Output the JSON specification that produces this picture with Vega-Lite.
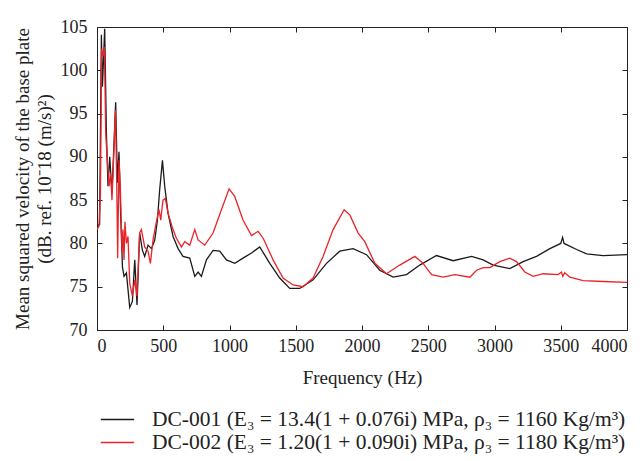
{
  "$schema": "https://vega.github.io/schema/vega-lite/v6.json",
  "width": 530,
  "height": 303,
  "autosize": {"type": "none"},
  "padding": {"left": 97, "top": 27, "right": 16, "bottom": 131},
  "background": "white",
  "config": {
    "font": "Liberation Serif",
    "view": {"stroke": "#222", "strokeWidth": 1},
    "axis": {"domainColor": "#222", "tickColor": "#222", "labelColor": "#222", "titleColor": "#222", "grid": false, "labelFont": "Liberation Serif", "titleFont": "Liberation Serif", "titleFontWeight": "normal"},
    "legend": {"labelFont": "Liberation Serif"}
  },
  "data": {"values": [
    {"s":"DC-001","f":0,"v":82.0},{"s":"DC-001","f":20,"v":82.2},{"s":"DC-001","f":33,"v":104.1},{"s":"DC-001","f":41,"v":98.1},{"s":"DC-001","f":58,"v":104.8},{"s":"DC-001","f":71,"v":92.8},{"s":"DC-001","f":83,"v":86.6},{"s":"DC-001","f":96,"v":90.0},{"s":"DC-001","f":113,"v":85.8},{"s":"DC-001","f":141,"v":96.3},{"s":"DC-001","f":154,"v":87.0},{"s":"DC-001","f":166,"v":90.6},{"s":"DC-001","f":179,"v":83.1},{"s":"DC-001","f":192,"v":77.3},{"s":"DC-001","f":204,"v":76.2},{"s":"DC-001","f":222,"v":76.6},{"s":"DC-001","f":247,"v":72.6},{"s":"DC-001","f":267,"v":73.3},{"s":"DC-001","f":285,"v":78.1},{"s":"DC-001","f":302,"v":72.9},{"s":"DC-001","f":322,"v":81.2},{"s":"DC-001","f":343,"v":79.2},{"s":"DC-001","f":360,"v":78.5},{"s":"DC-001","f":385,"v":79.8},{"s":"DC-001","f":411,"v":79.4},{"s":"DC-001","f":436,"v":80.4},{"s":"DC-001","f":456,"v":82.7},{"s":"DC-001","f":473,"v":86.2},{"s":"DC-001","f":494,"v":89.6},{"s":"DC-001","f":511,"v":86.6},{"s":"DC-001","f":536,"v":83.5},{"s":"DC-001","f":574,"v":80.8},{"s":"DC-001","f":612,"v":79.4},{"s":"DC-001","f":649,"v":78.5},{"s":"DC-001","f":700,"v":78.3},{"s":"DC-001","f":738,"v":76.2},{"s":"DC-001","f":763,"v":76.7},{"s":"DC-001","f":788,"v":76.2},{"s":"DC-001","f":826,"v":78.1},{"s":"DC-001","f":876,"v":79.2},{"s":"DC-001","f":926,"v":79.1},{"s":"DC-001","f":977,"v":78.1},{"s":"DC-001","f":1040,"v":77.7},{"s":"DC-001","f":1102,"v":78.3},{"s":"DC-001","f":1166,"v":78.9},{"s":"DC-001","f":1228,"v":79.6},{"s":"DC-001","f":1304,"v":77.7},{"s":"DC-001","f":1379,"v":76.0},{"s":"DC-001","f":1455,"v":74.8},{"s":"DC-001","f":1530,"v":74.8},{"s":"DC-001","f":1631,"v":75.8},{"s":"DC-001","f":1732,"v":77.7},{"s":"DC-001","f":1832,"v":79.1},{"s":"DC-001","f":1933,"v":79.4},{"s":"DC-001","f":2034,"v":78.7},{"s":"DC-001","f":2134,"v":76.9},{"s":"DC-001","f":2235,"v":76.1},{"s":"DC-001","f":2336,"v":76.4},{"s":"DC-001","f":2436,"v":77.5},{"s":"DC-001","f":2562,"v":78.6},{"s":"DC-001","f":2688,"v":78.0},{"s":"DC-001","f":2827,"v":78.5},{"s":"DC-001","f":2914,"v":78.1},{"s":"DC-001","f":2990,"v":77.5},{"s":"DC-001","f":3116,"v":77.1},{"s":"DC-001","f":3216,"v":77.9},{"s":"DC-001","f":3317,"v":78.5},{"s":"DC-001","f":3418,"v":79.4},{"s":"DC-001","f":3500,"v":80.0},{"s":"DC-001","f":3514,"v":80.7},{"s":"DC-001","f":3525,"v":80.0},{"s":"DC-001","f":3620,"v":79.3},{"s":"DC-001","f":3695,"v":78.8},{"s":"DC-001","f":3820,"v":78.6},{"s":"DC-001","f":4000,"v":78.7},
    {"s":"DC-002","f":0,"v":81.6},{"s":"DC-002","f":15,"v":82.0},{"s":"DC-002","f":26,"v":85.8},{"s":"DC-002","f":35,"v":102.5},{"s":"DC-002","f":45,"v":101.6},{"s":"DC-002","f":56,"v":102.7},{"s":"DC-002","f":66,"v":92.7},{"s":"DC-002","f":76,"v":90.0},{"s":"DC-002","f":91,"v":86.6},{"s":"DC-002","f":103,"v":88.1},{"s":"DC-002","f":113,"v":85.0},{"s":"DC-002","f":128,"v":90.8},{"s":"DC-002","f":139,"v":95.4},{"s":"DC-002","f":149,"v":87.0},{"s":"DC-002","f":156,"v":78.3},{"s":"DC-002","f":166,"v":89.6},{"s":"DC-002","f":176,"v":86.6},{"s":"DC-002","f":189,"v":78.9},{"s":"DC-002","f":196,"v":81.6},{"s":"DC-002","f":204,"v":78.1},{"s":"DC-002","f":211,"v":82.5},{"s":"DC-002","f":222,"v":80.0},{"s":"DC-002","f":234,"v":80.8},{"s":"DC-002","f":247,"v":75.4},{"s":"DC-002","f":267,"v":73.9},{"s":"DC-002","f":285,"v":75.8},{"s":"DC-002","f":302,"v":73.9},{"s":"DC-002","f":322,"v":81.2},{"s":"DC-002","f":335,"v":81.6},{"s":"DC-002","f":360,"v":79.6},{"s":"DC-002","f":385,"v":79.1},{"s":"DC-002","f":403,"v":77.7},{"s":"DC-002","f":423,"v":80.4},{"s":"DC-002","f":448,"v":82.5},{"s":"DC-002","f":468,"v":83.9},{"s":"DC-002","f":481,"v":82.7},{"s":"DC-002","f":498,"v":85.0},{"s":"DC-002","f":516,"v":85.2},{"s":"DC-002","f":536,"v":83.5},{"s":"DC-002","f":574,"v":81.6},{"s":"DC-002","f":599,"v":80.6},{"s":"DC-002","f":637,"v":79.6},{"s":"DC-002","f":662,"v":80.2},{"s":"DC-002","f":700,"v":79.8},{"s":"DC-002","f":738,"v":81.6},{"s":"DC-002","f":763,"v":80.4},{"s":"DC-002","f":813,"v":79.8},{"s":"DC-002","f":876,"v":81.2},{"s":"DC-002","f":939,"v":83.9},{"s":"DC-002","f":997,"v":86.3},{"s":"DC-002","f":1040,"v":85.4},{"s":"DC-002","f":1102,"v":82.7},{"s":"DC-002","f":1166,"v":80.9},{"s":"DC-002","f":1216,"v":81.4},{"s":"DC-002","f":1254,"v":80.6},{"s":"DC-002","f":1329,"v":78.1},{"s":"DC-002","f":1404,"v":76.0},{"s":"DC-002","f":1480,"v":75.2},{"s":"DC-002","f":1555,"v":75.0},{"s":"DC-002","f":1631,"v":76.0},{"s":"DC-002","f":1706,"v":78.5},{"s":"DC-002","f":1782,"v":81.6},{"s":"DC-002","f":1865,"v":83.9},{"s":"DC-002","f":1908,"v":83.3},{"s":"DC-002","f":1971,"v":81.2},{"s":"DC-002","f":2021,"v":80.2},{"s":"DC-002","f":2097,"v":77.7},{"s":"DC-002","f":2185,"v":76.5},{"s":"DC-002","f":2285,"v":77.5},{"s":"DC-002","f":2399,"v":78.5},{"s":"DC-002","f":2461,"v":77.7},{"s":"DC-002","f":2525,"v":76.4},{"s":"DC-002","f":2612,"v":76.1},{"s":"DC-002","f":2701,"v":76.4},{"s":"DC-002","f":2814,"v":76.1},{"s":"DC-002","f":2865,"v":76.9},{"s":"DC-002","f":2914,"v":77.2},{"s":"DC-002","f":2965,"v":77.2},{"s":"DC-002","f":3040,"v":77.9},{"s":"DC-002","f":3116,"v":78.3},{"s":"DC-002","f":3166,"v":77.9},{"s":"DC-002","f":3229,"v":76.7},{"s":"DC-002","f":3292,"v":76.2},{"s":"DC-002","f":3367,"v":76.5},{"s":"DC-002","f":3480,"v":76.4},{"s":"DC-002","f":3506,"v":76.7},{"s":"DC-002","f":3515,"v":76.2},{"s":"DC-002","f":3530,"v":76.6},{"s":"DC-002","f":3569,"v":76.1},{"s":"DC-002","f":3669,"v":75.7},{"s":"DC-002","f":3820,"v":75.6},{"s":"DC-002","f":4000,"v":75.5}
  ]},
  "layer": [
    {
      "mark": {"type": "line", "strokeWidth": 1.3, "clip": true},
      "encoding": {
        "x": {"field": "f", "type": "quantitative", "scale": {"domain": [0, 4000], "nice": false, "zero": false},
              "axis": {"orient": "bottom", "format": "d", "values": [0,500,1000,1500,2000,2500,3000,3500,4000], "tickSize": -5, "labelPadding": 12, "labelFontSize": 18, "title": "Frequency (Hz)", "titleFontSize": 19, "titlePadding": 13}},
        "y": {"field": "v", "type": "quantitative", "scale": {"domain": [70, 105], "nice": false, "zero": false},
              "axis": {"orient": "left", "values": [70,75,80,85,90,95,100,105], "tickSize": -5, "labelPadding": 15, "labelFontSize": 18, "title": ["Mean squared velocity of the base plate", "(dB. ref. 10⁻18 (m/s)²)"], "titleFontSize": 19, "titlePadding": 6, "titleLineHeight": 22}},
        "color": {"field": "s", "type": "nominal",
                  "scale": {"domain": ["DC-001", "DC-002"], "range": ["#1a1a1a", "#ec2228"]},
                  "legend": {"orient": "none", "legendX": 8, "legendY": 380, "title": null, "symbolType": "M-1.45,0H1.45", "symbolSize": 529, "symbolStrokeWidth": 1.3, "symbolFillColor": "transparent", "labelFontSize": 21.5, "labelColor": "#222", "labelOffset": 22, "rowPadding": 0,
                             "labelExpr": "datum.value == 'DC-001' ? 'DC-001 (E₃  =  13.4(1 + 0.076i) MPa, ρ₃  =  1160 Kg/m³)' : 'DC-002 (E₃  =  1.20(1 + 0.090i) MPa, ρ₃  =  1180 Kg/m³)'", "labelLimit": 600}}
      }
    },
    {
      "mark": {"type": "point", "opacity": 0},
      "encoding": {
        "x": {"field": "f", "type": "quantitative", "scale": {"domain": [0, 4000], "nice": false, "zero": false}, "axis": {"orient": "top", "values": [0,500,1000,1500,2000,2500,3000,3500,4000], "tickSize": -5, "labels": false, "title": null}},
        "y": {"field": "v", "type": "quantitative", "scale": {"domain": [70, 105], "nice": false, "zero": false}, "axis": {"orient": "right", "values": [70,75,80,85,90,95,100,105], "tickSize": -5, "labels": false, "title": null}}
      }
    }
  ],
  "resolve": {"scale": {"x": "independent", "y": "independent"}, "axis": {"x": "independent", "y": "independent"}}
}
